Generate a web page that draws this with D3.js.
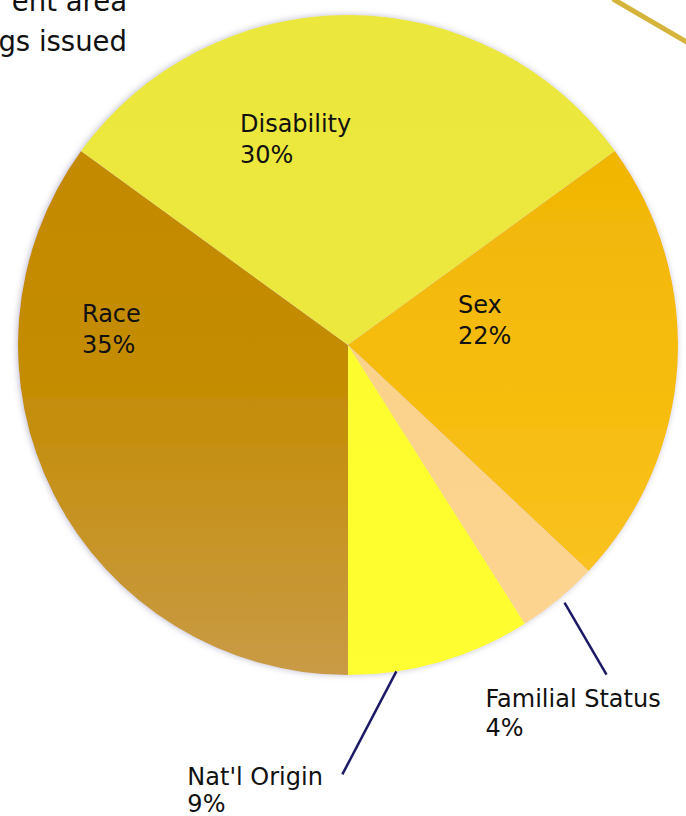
<!DOCTYPE html>
<html>
<head>
<meta charset="utf-8">
<script src="https://cdn.jsdelivr.net/npm/d3@7"></script>
<style>
  html, body { margin: 0; padding: 0; background: #ffffff; }
  svg { display: block; }
  text { font-family: "DejaVu Sans", "Liberation Sans", sans-serif; fill: #111; }
</style>
</head>
<body>
<svg id="chart" width="686" height="816"></svg>
<script>
// Fair housing complaint bases, share of findings (percent)
const categories = ["Race", "Disability", "Sex", "Familial Status", "Nat'l Origin"];
const shares     = [35, 30, 22, 4, 9];
// Each slice gets a top/middle/bottom colour set for its vertical shading
const topColors    = ["#c38900", "#ece73c", "#edb200", "#f9cf86", "#fcfb2c"];
const midColors    = ["#c48c02", "#ece83e", "#f6bc0c", "#fbd28a", "#fdfc2e"];
const bottomColors = ["#c99b46", "#eee844", "#fcc52c", "#fdd592", "#fefe30"];
// Partial caption lines running in from the left edge
const captionLines = ["ent area", "gs issued"];

const svg = d3.select("#chart");
const cx = 348, cy = 345, R = 330;

const defs = svg.append("defs");

// soft halo around the disc
const halo = defs.append("filter").attr("id", "halo")
  .attr("x", "-10%").attr("y", "-10%").attr("width", "120%").attr("height", "120%");
halo.append("feGaussianBlur").attr("in", "SourceAlpha").attr("stdDeviation", 3).attr("result", "b");
halo.append("feOffset").attr("in", "b").attr("dx", -1).attr("dy", 0).attr("result", "o");
halo.append("feFlood").attr("flood-color", "#7a78a0").attr("flood-opacity", 0.5);
halo.append("feComposite").attr("in2", "o").attr("operator", "in");
const merge = halo.append("feMerge");
merge.append("feMergeNode");
merge.append("feMergeNode").attr("in", "SourceGraphic");

// vertical gradients in the pie group's frame (centre at 0,0)
categories.forEach((c, i) => {
  const g = defs.append("linearGradient")
    .attr("id", "grad" + i)
    .attr("gradientUnits", "userSpaceOnUse")
    .attr("x1", 0).attr("y1", -R).attr("x2", 0).attr("y2", R);
  g.append("stop").attr("offset", "0%").attr("stop-color", topColors[i]);
  g.append("stop").attr("offset", "55%").attr("stop-color", midColors[i]);
  g.append("stop").attr("offset", "100%").attr("stop-color", bottomColors[i]);
});

// Caption text (clipped at the left edge)
svg.append("g").selectAll("text")
  .data(captionLines)
  .join("text")
  .attr("x", 127)
  .attr("y", (d, i) => 11 + i * 40)
  .attr("text-anchor", "end")
  .attr("font-size", 27.5)
  .attr("fill", "#222")
  .text(d => d);

// Decorative gold stroke in the upper right
svg.append("line")
  .attr("x1", 613).attr("y1", -1).attr("x2", 690).attr("y2", 44)
  .attr("stroke", "#d4b43a").attr("stroke-width", 5);

const pie = d3.pie()
  .value(d => d)
  .sort(null)
  .startAngle(Math.PI)
  .endAngle(3 * Math.PI);

const arcs = pie(shares);
const arc = d3.arc().innerRadius(0).outerRadius(R);

const pieG = svg.append("g")
  .attr("transform", `translate(${cx},${cy})`);

pieG.append("g").attr("filter", "url(#halo)")
  .selectAll("path")
  .data(arcs)
  .join("path")
  .attr("d", arc)
  .attr("fill", (d, i) => `url(#grad${i})`);

const fontSize = 24;
const lineGap = 31;

// Inside labels: text block offset from the pie centre
const insideOffset = {
  0: [-266, -23],
  1: [-108, -213],
  2: [110, -32]
};
// Outside labels: where the leader leaves the rim (fraction through the slice),
// the leader's vector, and the text block offset from the rim point
const outsideLayout = {
  3: { frac: 0.47, rim: 1.02, lead: [42, 72], text: [-79, 104], gap: 29 },
  4: { frac: 0.74, rim: 1.0, lead: [-54, 103], text: [-209, 114], gap: 27 }
};

const labels = pieG.append("g");
arcs.forEach((d, i) => {
  const txt = [categories[i], shares[i] + "%"];
  if (insideOffset[i]) {
    const [px, py] = insideOffset[i];
    const t = labels.append("text").attr("font-size", fontSize);
    txt.forEach((s, k) => t.append("tspan")
      .attr("x", px).attr("y", py + k * lineGap).text(s));
  } else {
    const L = outsideLayout[i];
    const ang = d.startAngle + (d.endAngle - d.startAngle) * L.frac;
    const rx = Math.sin(ang) * R * L.rim;
    const ry = -Math.cos(ang) * R * L.rim;
    labels.append("line")
      .attr("x1", rx).attr("y1", ry)
      .attr("x2", rx + L.lead[0]).attr("y2", ry + L.lead[1])
      .attr("stroke", "#1c1a66").attr("stroke-width", 2.5);
    const t = labels.append("text").attr("font-size", fontSize);
    txt.forEach((s, k) => t.append("tspan")
      .attr("x", rx + L.text[0]).attr("y", ry + L.text[1] + k * L.gap).text(s));
  }
});
</script>
</body>
</html>
